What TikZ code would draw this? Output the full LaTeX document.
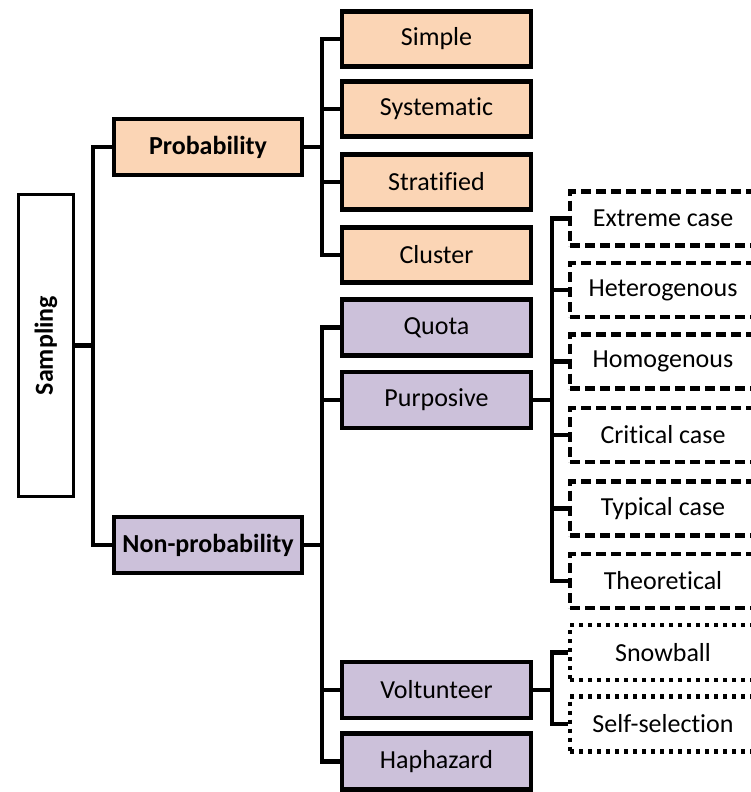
\documentclass[tikz,border=0pt]{standalone}
\usepackage{fontspec}
\setmainfont{Carlito}[Ligatures={NoCommon,NoContextual}]
\definecolor{probfill}{HTML}{FBD5B5}
\definecolor{nonfill}{HTML}{CCC1DA}
\begin{document}
\begin{tikzpicture}[x=1pt, y=-1pt,
  every node/.style={font=\fontsize{26}{30}\selectfont, inner sep=0pt, align=center},
  box/.style={draw=black, line width=4.5pt, rectangle},
  catbox/.style={box, minimum width=188pt, minimum height=56pt, font=\fontsize{26}{30}\selectfont\bfseries},
  probbox/.style={box, fill=probfill, minimum width=189pt, minimum height=55pt},
  nonbox/.style={box, fill=nonfill, minimum width=189pt, minimum height=56pt},
  dashbox/.style={draw=black, line width=4.5pt, dash pattern=on 10pt off 5pt, minimum width=186pt, minimum height=54pt},
  dotbox/.style={draw=black, line width=4.5pt, dash pattern=on 4pt off 5pt, minimum width=186pt, minimum height=55pt},
  conn/.style={draw=black, line width=4.5pt}]
\useasboundingbox (0,0) rectangle (751,792);
\clip (0,0) rectangle (751,792);

% root
\node[draw=black, line width=3pt, minimum width=55pt, minimum height=302pt] (samp) at (46,345.5)
  {\rotatebox{90}{\bfseries Sampling}};

% first level
\node[catbox, fill=probfill] (prob) at (208,147) {Probability};
\node[catbox, fill=nonfill] (nonprob) at (208,545) {Non-probability};

% probability methods
\node[probbox] (simple) at (436.5,39) {Simple};
\node[probbox] (syst) at (436.5,109) {Systematic};
\node[probbox] (strat) at (436.5,182) {Stratified};
\node[probbox] (clust) at (436.5,255) {Cluster};

% non-probability methods
\node[nonbox] (quota) at (436.5,327.5) {Quota};
\node[nonbox] (purp) at (436.5,400) {Purposive};
\node[nonbox] (volt) at (436.5,690) {Voltunteer};
\node[nonbox] (haph) at (436.5,761.5) {Haphazard};

% purposive variants
\node[dashbox] (extr) at (663,218.5) {Extreme case};
\node[dashbox] (hetero) at (663,290) {Heterogenous};
\node[dashbox] (homo) at (663,361.5) {Homogenous};
\node[dashbox] (crit) at (663,435) {Critical case};
\node[dashbox] (typ) at (663,508.5) {Typical case};
\node[dashbox] (theo) at (663,581) {Theoretical};

% volunteer variants
\node[dotbox] (snow) at (663,652.5) {Snowball};
\node[dotbox] (self) at (663,724) {Self-selection};

% bus positions
\coordinate (b1) at (93,0);
\coordinate (b2) at (322,0);
\coordinate (b4) at (552,0);

% root to first level
\draw[conn] (samp.east) -- (samp.east -| b1);
\draw[conn] (prob.west) -- (prob.west -| b1) -- (nonprob.west -| b1) -- (nonprob.west);

% probability branch
\draw[conn] (prob.east) -- (prob.east -| b2);
\draw[conn] (simple.west) -- (simple.west -| b2) -- (clust.west -| b2) -- (clust.west);
\draw[conn] (syst.west) -- (syst.west -| b2);
\draw[conn] (strat.west) -- (strat.west -| b2);

% non-probability branch
\draw[conn] (nonprob.east) -- (nonprob.east -| b2);
\draw[conn] (quota.west) -- (quota.west -| b2) -- (haph.west -| b2) -- (haph.west);
\draw[conn] (purp.west) -- (purp.west -| b2);
\draw[conn] (volt.west) -- (volt.west -| b2);

% purposive branch
\draw[conn] (purp.east) -- (purp.east -| b4);
\draw[conn] (extr.west) -- (extr.west -| b4) -- (theo.west -| b4) -- (theo.west);
\draw[conn] (hetero.west) -- (hetero.west -| b4);
\draw[conn] (homo.west) -- (homo.west -| b4);
\draw[conn] (crit.west) -- (crit.west -| b4);
\draw[conn] (typ.west) -- (typ.west -| b4);

% volunteer branch
\draw[conn] (volt.east) -- (volt.east -| b4);
\draw[conn] (snow.west) -- (snow.west -| b4) -- (self.west -| b4) -- (self.west);
\end{tikzpicture}
\end{document}
